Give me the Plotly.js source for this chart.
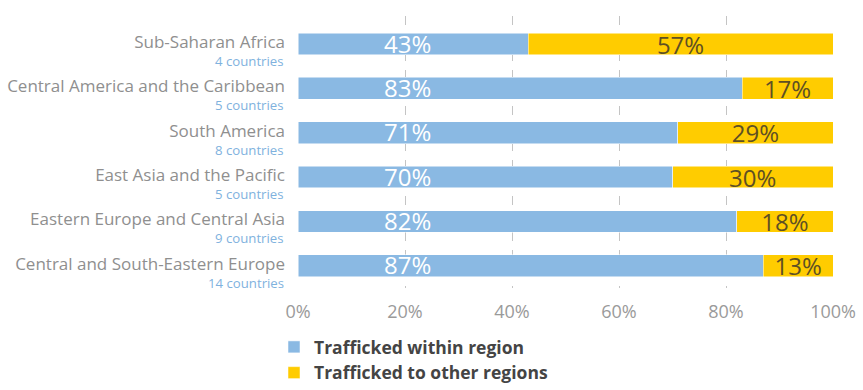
<!DOCTYPE html>
<html>
<head>
<meta charset="utf-8">
<script src="https://cdn.plot.ly/plotly-3.0.1.min.js"></script>
<style>html,body{margin:0;padding:0;background:#fff;}#chart{width:863px;height:390px;}</style>
</head>
<body>
<div id="chart"></div>
<script>
const regions = ["Sub-Saharan Africa", "Central America and the Caribbean", "South America", "East Asia and the Pacific", "Eastern Europe and Central Asia", "Central and South-Eastern Europe"];
const countries = [4, 5, 8, 5, 9, 14];
const within = [43, 83, 71, 70, 82, 87];
const other = [57, 17, 29, 30, 18, 13];
const xTicks = [0, 20, 40, 60, 80, 100];

const traces = [
  {
    type: "bar", orientation: "h", name: "Trafficked within region",
    y: regions, x: within, width: 0.49,
    marker: {color: "#8ab9e3", line: {color: "#ffffff", width: 0.5}},
    textposition: "none", hoverinfo: "x+y"
  },
  {
    type: "bar", orientation: "h", name: "Trafficked to other regions",
    y: regions, x: other, width: 0.49,
    marker: {color: "#ffcc00", line: {color: "#ffffff", width: 0.5}},
    text: other.map(v => v + "%"), textposition: "inside", insidetextanchor: "middle",
    constraintext: "none", cliponaxis: false,
    textfont: {family: "Open Sans", size: 24, color: "#5e5024"},
    hoverinfo: "x+y"
  }
];

const withinLabels = regions.map((r, i) => ({
  x: 20.5, y: r, xref: "x", yref: "y", text: within[i] + "%", showarrow: false,
  font: {family: "Open Sans", size: 24, color: "#ffffff"}, xanchor: "center", yanchor: "middle",
  yshift: 1
}));
const countryLabels = regions.map((r, i) => ({
  x: 0, y: r, xref: "paper", yref: "y", text: countries[i] + " countries", showarrow: false,
  font: {family: "Open Sans", size: 13.2, color: "#7fb2de"}, xanchor: "right", yanchor: "middle",
  xshift: -12, yshift: -17
}));

const layout = {
  width: 863, height: 390,
  margin: {l: 298, r: 30, t: 16, b: 102, autoexpand: false},
  barmode: "stack",
  paper_bgcolor: "#ffffff", plot_bgcolor: "#ffffff",
  font: {family: "Open Sans", color: "#999999"},
  showlegend: true,
  legend: {
    xref: "container", yref: "container",
    x: 274 / 863, xanchor: "left", y: 1 - 329 / 390, yanchor: "top",
    orientation: "v", traceorder: "normal",
    font: {family: "Open Sans", size: 17.5, color: "#444444", weight: "bold"},
    itemwidth: 30, tracegroupgap: 0
  },
  xaxis: {
    range: [0, 100], tickvals: xTicks, ticktext: xTicks.map(v => v + "%"),
    showgrid: true, gridcolor: "#c4c4c4", griddash: "dash", gridwidth: 1,
    zeroline: false, showline: false, automargin: false,
    tickfont: {family: "Open Sans", size: 18, color: "#9a9a9a"},
    ticks: "", ticklabelstandoff: 11, fixedrange: true
  },
  yaxis: {
    type: "category", autorange: "reversed", automargin: false,
    tickfont: {family: "Open Sans", size: 17, color: "#8f8f8f"},
    ticks: "", showgrid: false, zeroline: false, showline: false,
    ticklabelstandoff: 12, ticklabelshift: 2, fixedrange: true
  },
  annotations: withinLabels.concat(countryLabels)
};

Plotly.newPlot("chart", traces, layout, {displayModeBar: false, staticPlot: true});
</script>
</body>
</html>
